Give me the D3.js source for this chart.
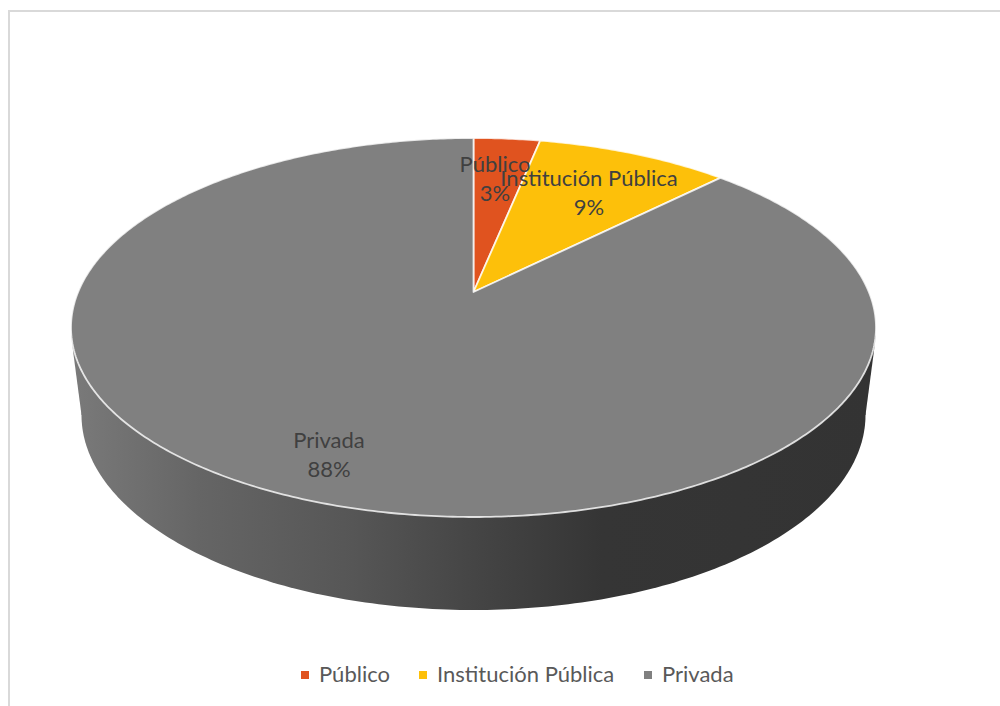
<!DOCTYPE html>
<html>
<head>
<meta charset="utf-8">
<script src="https://cdn.jsdelivr.net/npm/d3@7"></script>
<style>
  html, body { margin: 0; background: #fff; overflow: hidden; }
  svg { display: block; font-family: Lato, "Open Sans", sans-serif; }
</style>
</head>
<body>
<div id="chart"></div>
<script>
const categories = ["Público", "Institución Pública", "Privada"];
const shares = [3.2, 9.3, 87.5];
const colors = ["#e0531f", "#fdc00a", "#808080"];

const width = 1000, height = 706;

// top face of the pie, seen in perspective
const face = { cx: 473.5, cy: 327.5, rx: 402.5, ry: 189.5, pivot: 292 };
const base = { cx: 473.5, cy: 415, rx: 392, ry: 195 };

// circle -> ellipse homography so the pivot sits above the ellipse centre
const c = (face.cy - face.pivot) / face.ry;
const a = (face.cy - face.ry) * (1 + c) - face.pivot;
const k = face.rx * Math.sqrt(1 - c * c);

function project(angle, r = 1) {
  const u = r * Math.sin(angle), v = r * Math.cos(angle);
  const w = c * v + 1;
  return [face.cx + k * u / w, (a * v + face.pivot) / w];
}

const svg = d3.select("#chart").append("svg")
  .attr("width", width)
  .attr("height", height);

const defs = svg.append("defs");
const sideGrad = defs.append("linearGradient")
  .attr("id", "side")
  .attr("gradientUnits", "userSpaceOnUse")
  .attr("x1", 71).attr("x2", 876).attr("y1", 0).attr("y2", 0);
[[0, "#7a7a7a"], [0.16, "#656565"], [0.35, "#565656"], [0.51, "#444444"], [0.66, "#353535"], [1, "#333333"]]
  .forEach(s => sideGrad.append("stop").attr("offset", s[0]).attr("stop-color", s[1]));

// chart frame
svg.append("path")
  .attr("d", "M9,706V11H1000")
  .attr("fill", "none")
  .attr("stroke", "#d9d9d9")
  .attr("stroke-width", 2);

// side wall
const angleSteps = d3.range(0, 361).map(d => d * Math.PI / 180);
const outline = d3.line();
const wall = angleSteps.map(t => [base.cx + base.rx * Math.sin(t), base.cy + base.ry * Math.cos(t)]);
svg.append("path")
  .attr("d", outline(wall) + "Z")
  .attr("fill", "url(#side)");
svg.append("path")
  .attr("d", outline([[face.cx - face.rx, face.cy + 8], [base.cx - base.rx, base.cy], [base.cx + base.rx, base.cy], [face.cx + face.rx, face.cy + 8]]) + "Z")
  .attr("fill", "url(#side)");

// top face slices
const pie = d3.pie().sort(null).value(d => d);
const arcs = pie(shares);

svg.selectAll("path.slice")
  .data(arcs)
  .join("path")
  .attr("class", "slice")
  .attr("d", d => {
    const n = Math.ceil((d.endAngle - d.startAngle) * 90);
    const pts = d3.range(n + 1).map(i => project(d.startAngle + (d.endAngle - d.startAngle) * i / n));
    return outline([project(0, 0), ...pts]) + "Z";
  })
  .attr("fill", (d, i) => colors[i])
  .attr("stroke", "#fff")
  .attr("stroke-opacity", 0.8)
  .attr("stroke-width", 1.8)
  .attr("stroke-linejoin", "round");

// data labels
const labelPos = [[495, 172], [589, 186], [329, 448]];
const labels = svg.selectAll("g.label")
  .data(arcs)
  .join("g")
  .attr("class", "label")
  .attr("font-size", 22)
  .attr("fill", "#404040")
  .attr("text-anchor", "middle");
labels.append("text")
  .attr("x", (d, i) => labelPos[i][0])
  .attr("y", (d, i) => labelPos[i][1])
  .text((d, i) => categories[i]);
labels.append("text")
  .attr("x", (d, i) => labelPos[i][0])
  .attr("y", (d, i) => labelPos[i][1] + 29)
  .text(d => Math.round(d.value) + "%");

// legend
const legendX = [301, 419, 644];
const legend = svg.selectAll("g.legend")
  .data(categories)
  .join("g")
  .attr("class", "legend")
  .attr("transform", (d, i) => `translate(${legendX[i]},671)`);
legend.append("rect")
  .attr("width", 8).attr("height", 8)
  .attr("fill", (d, i) => colors[i]);
legend.append("text")
  .attr("x", 18)
  .attr("y", 11)
  .attr("font-size", 22)
  .attr("fill", "#595959")
  .text(d => d);
</script>
</body>
</html>
